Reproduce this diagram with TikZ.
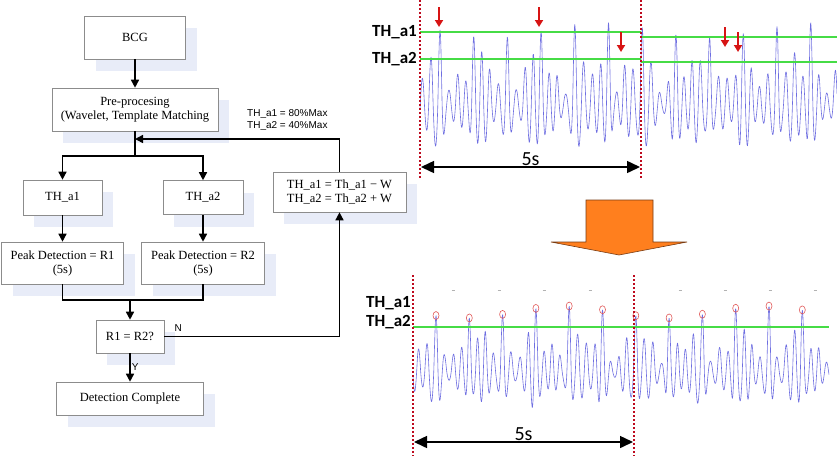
\documentclass[tikz,border=0pt]{standalone}
\usepackage{fontspec}
\setmainfont{Liberation Serif}
\newfontfamily\arialfont{Liberation Sans}
\newfontfamily\calfont{Carlito}
\usepackage{tikz}
\usetikzlibrary{arrows.meta,shadows}

\definecolor{shadowblue}{RGB}{232,236,248}
\definecolor{boxgray}{RGB}{140,140,140}
\definecolor{wavecol}{RGB}{110,110,225}
\definecolor{thgreen}{RGB}{70,220,70}
\definecolor{divred}{RGB}{190,10,30}
\definecolor{markred}{RGB}{215,20,20}
\definecolor{ringred}{RGB}{225,90,90}
\definecolor{bigorange}{RGB}{255,127,30}

\begin{document}
\begin{tikzpicture}[x=1pt,y=-1pt,>={Triangle[length=8pt,width=8pt]},auto,
    box/.style={draw=boxgray,line width=0.6pt,fill=white,inner sep=0pt,align=center,
      font=\fontsize{12.5}{14}\selectfont,
      drop shadow={shadow xshift=11pt,shadow yshift=-12pt,fill=shadowblue,opacity=1}},
    flow/.style={line width=1.5pt},
    note/.style={font=\arialfont\fontsize{10}{12}\selectfont,inner sep=1pt},
    thlabel/.style={font=\calfont\bfseries\fontsize{17}{17}\selectfont,inner sep=0pt,anchor=east},
    span/.style={line width=1.5pt,{Triangle[length=13pt,width=12pt]}-{Triangle[length=13pt,width=12pt]}},
    spanlabel/.style={font=\calfont\fontsize{20}{20}\selectfont,inner sep=0pt},
    divider/.style={divred,line width=2.2pt,dash pattern=on 2pt off 2pt},
    thline/.style={thgreen,line width=1.4pt},
    wave/.style={wavecol,line width=0.6pt,line join=round},
    peakmark/.style={markred,line width=2pt,-{Triangle[length=7pt,width=8pt]}},
    ring/.style={ringred,line width=0.6pt},
    declare function={
      bph(\x,\p,\T)=mod(\x-\p+10*\T,\T)/\T;
      benv(\t)=(0.5001+0.5*cos(360*\t))^8;
      bamp(\t,\x)=(1-benv(\t))*(0.42+0.3*sin(11*\x)*cos(4.1*\x))+benv(\t)*(1+0.1*sin(9*\x));
      bosc(\t,\x)=cos(1440*\t+35*sin(5.3*\x)*(1-benv(\t)));
    }]
  \useasboundingbox (0,0) rectangle (837,456);

  % flow chart
  \node[box,minimum width=101pt,minimum height=43pt] (bcg) at (135,37.5) {BCG};
  \node[box,minimum width=166pt,minimum height=43pt] (pre) [below of=bcg,node distance=72pt]
        {Pre-procesing\\(Wavelet, Template Matching};
  \node[box,minimum width=79pt,minimum height=35pt]  (th1) at (62.5,197.5) {TH\_a1};
  \node[box,minimum width=80pt,minimum height=34pt]  (th2) [right of=th1,node distance=140.5pt] {TH\_a2};
  \node[box,minimum width=133pt,minimum height=40pt] (upd) at (339.5,192)
        {TH\_a1 = Th\_a1 − W\\TH\_a2 = Th\_a2 + W};
  \node[box,minimum width=122pt,minimum height=42pt] (r1) [below of=th1,node distance=65.5pt]
        {Peak Detection = R1\\(5s)};
  \node[box,minimum width=123pt,minimum height=42pt] (r2) [below of=th2,node distance=65.5pt]
        {Peak Detection = R2\\(5s)};
  \node[box,minimum width=68pt,minimum height=33pt]  (cmp) at (130,336.5) {R1 = R2?};
  \node[box,minimum width=147pt,minimum height=33pt] (done) [below of=cmp,node distance=62pt]
        {Detection Complete};

  \node[note,anchor=west,align=left] (init) at (246,120) {TH\_a1 = 80\%Max\\TH\_a2 = 40\%Max};

  \coordinate (split) at (135,156);
  \coordinate (back) at (135,139);
  \coordinate (merge) at (130,300);

  \path[->,flow] (bcg) edge (pre)
        (th1) edge (r1)
        (th2) edge (r2)
        (cmp) edge node[note] {Y} (done);
  \draw[flow] (pre) -- (split);
  \draw[->,flow] (split) -| (th1);
  \draw[->,flow] (split) -| (th2);
  \draw[->,flow] (upd) |- (back);
  \draw[flow] (r1) |- (merge) -| (r2);
  \draw[->,flow] (merge) -- (cmp);
  \draw[->,flow] (cmp) -| node[note,pos=0.04,above=3pt] {N} (upd);

  % raw signal, two thresholds
  \draw[wave] plot[domain=420:837,samples=1100]
    (\x,{105-bamp(bph(\x,440,33.7),\x)*bosc(bph(\x,440,33.7),\x)*(bosc(bph(\x,440,33.7),\x)>0 ? 75 : 55)});
  \draw[thline] (420,32) -- (641,32);
  \draw[thline] (420,59) -- (641,59);
  \draw[thline] (641,37) -- (837,37);
  \draw[thline] (641,62) -- (837,62);
  \draw[divider] (420,0) -- (420,178);
  \draw[divider] (641,0) -- (641,178);
  \node[thlabel] (ta1) at (417,32) {TH\_a1};
  \node[thlabel] (ta2) at (417,59) {TH\_a2};
  \coordinate (s1a) at (421,167);
  \coordinate (s1b) at (640,167);
  \draw[span] (s1a) -- node[spanlabel,above=1pt] {5s} (s1b);
  \foreach \px/\py in {439/7,539/7,621/32,725/27,738/32}
    \draw[peakmark] (\px,\py) -- ++(0,20);

  % big arrow
  \draw[fill=bigorange,draw={rgb,255:red,120;green,60;blue,20},line width=0.6pt]
    (586,200) -- (653,200) -- (653,242) -- (687,242) -- (619,255) -- (551,242) -- (586,242) -- cycle;

  % detected peaks
  \foreach \tx in {453,499,544,590,680,725,770,815}
    \draw[gray!60,line width=0.6pt] (\tx-1.5,290) -- (\tx+1.5,290);
  \draw[wave] plot[domain=413:829,samples=1100]
    (\x,{372-bamp(bph(\x,436,33.3),\x)*bosc(bph(\x,436,33.3),\x)*(bosc(bph(\x,436,33.3),\x)>0 ? 60 : 42)});
  \draw[thline] (413,327) -- (829,327);
  \foreach \k in {0,...,11} {
    \pgfmathsetmacro{\px}{436+33.3*\k}
    \pgfmathsetmacro{\py}{372-60*(1+0.1*sin(9*\px))}
    \draw[ring] (\px,\py) ellipse [x radius=3pt,y radius=4pt];
  }
  \draw[divider] (413,275) -- (413,456);
  \draw[divider] (634,275) -- (634,456);
  \node[thlabel] (tb1) at (411,303) {TH\_a1};
  \node[thlabel] (tb2) at (411,322) {TH\_a2};
  \coordinate (s2a) at (414,442);
  \coordinate (s2b) at (633,442);
  \draw[span] (s2a) -- node[spanlabel,above=1pt] {5s} (s2b);
\end{tikzpicture}
\end{document}
